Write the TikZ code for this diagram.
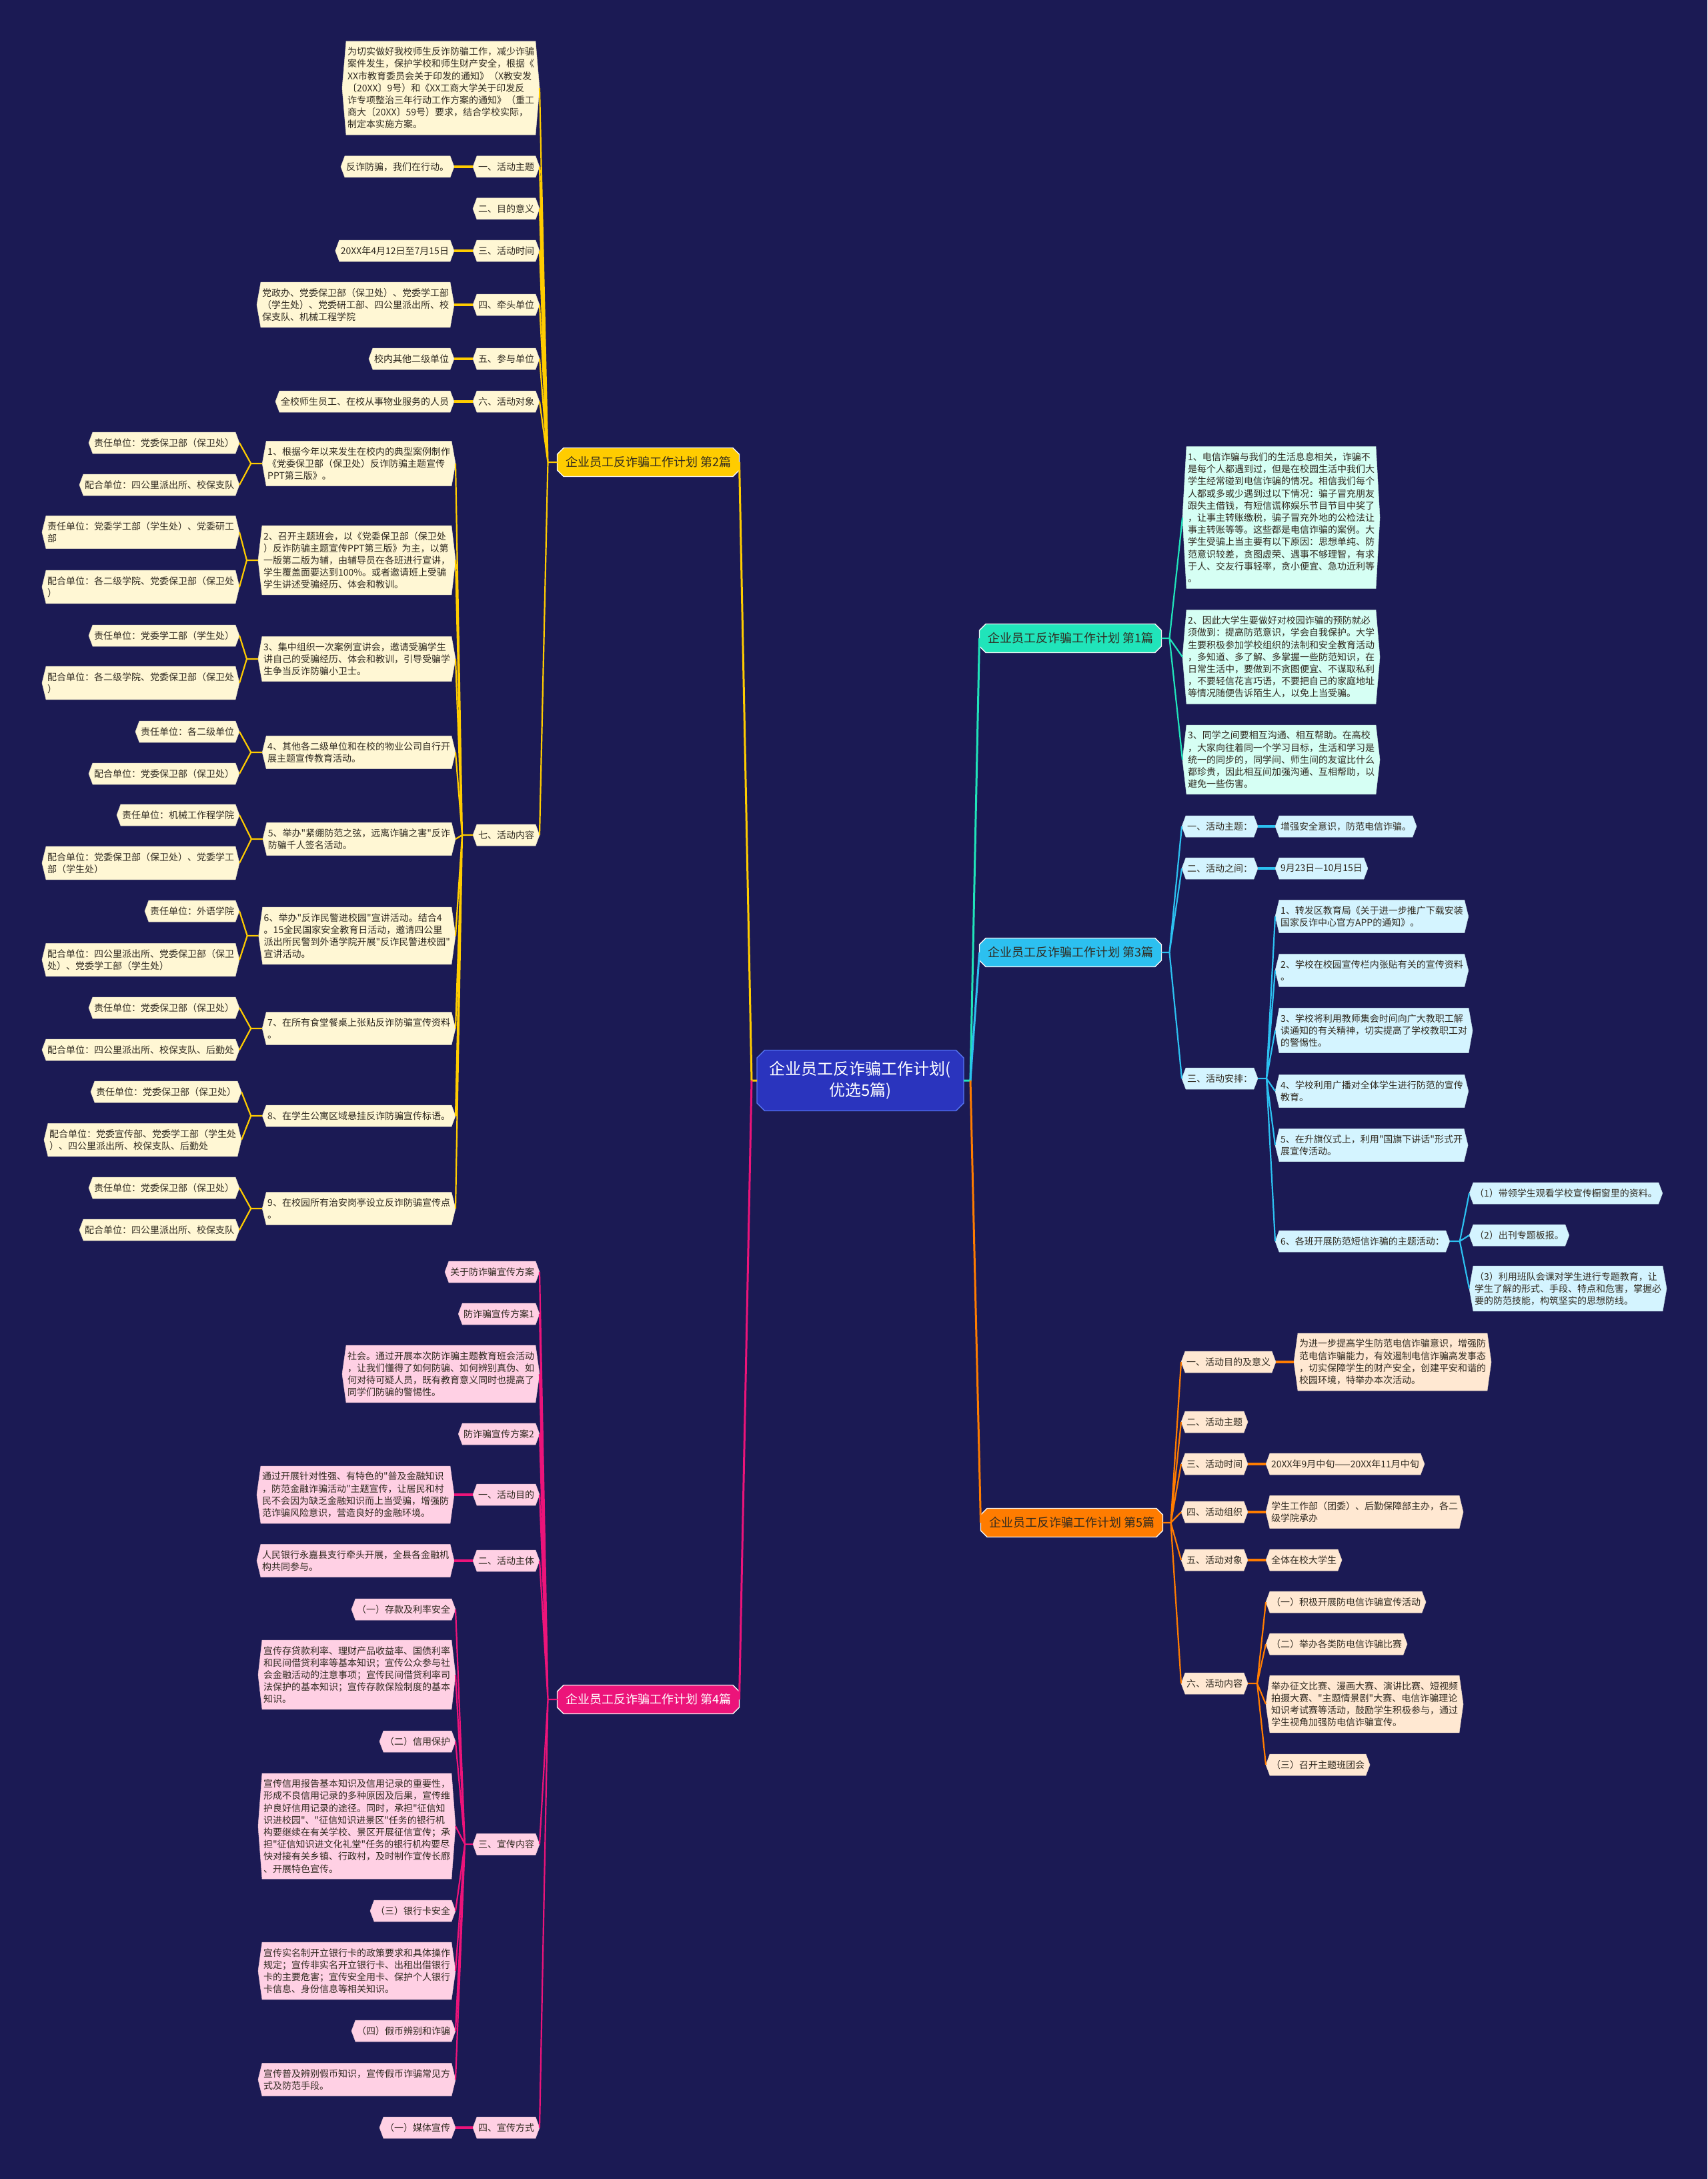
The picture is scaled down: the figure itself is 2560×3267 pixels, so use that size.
\documentclass[tikz,border=0pt]{standalone}
\usepackage{fontspec}
\setmainfont{Noto Sans CJK SC}[Ligatures=TeXOff]
\usetikzlibrary{shapes.misc}
\definecolor{night}{RGB}{27,26,84}
\definecolor{txt}{RGB}{48,42,32}
\definecolor{gold}{RGB}{255,204,0}
\definecolor{goldpale}{RGB}{255,247,212}
\definecolor{mint}{RGB}{32,228,186}
\definecolor{mintpale}{RGB}{214,255,244}
\definecolor{sky}{RGB}{44,192,240}
\definecolor{skypale}{RGB}{212,244,255}
\definecolor{amber}{RGB}{255,124,0}
\definecolor{amberpale}{RGB}{255,232,210}
\definecolor{rose}{RGB}{236,20,122}
\definecolor{rosepale}{RGB}{255,208,228}
\definecolor{rootblue}{RGB}{42,52,190}
\definecolor{rootedge}{RGB}{86,116,240}
\makeatletter
\pgfkeys{/pgf/hex tip/.initial=6pt}
\pgfdeclareshape{hexbox}{%
  \inheritsavedanchors[from=rectangle]%
  \inheritanchorborder[from=rectangle]%
  \inheritanchor[from=rectangle]{center}%
  \inheritanchor[from=rectangle]{north}%
  \inheritanchor[from=rectangle]{south}%
  \inheritanchor[from=rectangle]{mid}%
  \inheritanchor[from=rectangle]{base}%
  \saveddimen\hextip{\pgfmathsetlength\pgf@x{\pgfkeysvalueof{/pgf/hex tip}}}%
  \anchor{east}{\southwest\pgf@ya=\pgf@y\northeast
    \pgf@y=.5\pgf@y\advance\pgf@y by.5\pgf@ya\advance\pgf@x by\hextip}%
  \anchor{west}{\northeast\pgf@ya=\pgf@y\southwest
    \pgf@y=.5\pgf@y\advance\pgf@y by.5\pgf@ya\advance\pgf@x by-\hextip}%
  \backgroundpath{%
    \southwest\edef\hx@l{\the\pgf@x}\edef\hx@b{\the\pgf@y}%
    \northeast\edef\hx@r{\the\pgf@x}\edef\hx@t{\the\pgf@y}%
    \pgf@xa=\hx@r\advance\pgf@xa by\hextip\edef\hx@rr{\the\pgf@xa}%
    \pgf@xa=\hx@l\advance\pgf@xa by-\hextip\edef\hx@ll{\the\pgf@xa}%
    \pgf@ya=\hx@b\advance\pgf@ya by\hx@t\pgf@ya=.5\pgf@ya\edef\hx@m{\the\pgf@ya}%
    \pgfpathmoveto{\pgfqpoint{\hx@l}{\hx@b}}%
    \pgfpathlineto{\pgfqpoint{\hx@r}{\hx@b}}%
    \pgfpathlineto{\pgfqpoint{\hx@rr}{\hx@m}}%
    \pgfpathlineto{\pgfqpoint{\hx@r}{\hx@t}}%
    \pgfpathlineto{\pgfqpoint{\hx@l}{\hx@t}}%
    \pgfpathlineto{\pgfqpoint{\hx@ll}{\hx@m}}%
    \pgfpathclose}%
}
\makeatother
\begin{document}
\begin{tikzpicture}[x=1pt,y=-1pt,
  leaf/.style={hexbox,fill=#1,draw=#1!80!gray,line width=.5pt,text=txt,font=\fontsize{14}{18.2}\selectfont,align=left,inner xsep=2pt,inner ysep=9pt,minimum height=32pt,outer sep=0pt},
  branch/.style={chamfered rectangle,chamfered rectangle xsep=6pt,fill=#1,draw=white!92!gray,line width=1.4pt,text=txt,font=\fontsize{18}{22}\selectfont,minimum width=273pt,minimum height=43pt,inner sep=0pt,outer sep=0pt},
  root/.style={chamfered rectangle,chamfered rectangle xsep=8pt,fill=rootblue,draw=rootedge,line width=1.4pt,text=white,font=\fontsize{24}{32}\selectfont,align=center,minimum width=310pt,minimum height=91pt,inner sep=0pt,outer sep=0pt},
  link/.style={draw=#1,line width=2.2pt},
  stub/.style={draw=#1,line width=3.5pt}]
\path[use as bounding box,fill=night] (0,0) rectangle (2560,3267);
\node[root] (root) at (1290,1620) {企业员工反诈骗工作计划(\\优选5篇)};
\node[branch=gold] (p2) at (972,693) {企业员工反诈骗工作计划 第2篇};
\node[leaf=goldpale,anchor=east] (p2intro) at (809,132) {为切实做好我校师生反诈防骗工作，减少诈骗\\案件发生，保护学校和师生财产安全，根据《\\XX市教育委员会关于印发的通知》（X教安发\\〔20XX〕9号）和《XX工商大学关于印发反\\诈专项整治三年行动工作方案的通知》（重工\\商大〔20XX〕59号）要求，结合学校实际，\\制定本实施方案。};
\node[leaf=goldpale,anchor=east] (p2a) at (809,250) {一、活动主题};
\node[leaf=goldpale,anchor=east] (p2a1) at (681,250) {反诈防骗，我们在行动。};
\node[leaf=goldpale,anchor=east] (p2b) at (809,313) {二、目的意义};
\node[leaf=goldpale,anchor=east] (p2c) at (809,376) {三、活动时间};
\node[leaf=goldpale,anchor=east] (p2c1) at (681,376) {20XX年4月12日至7月15日};
\node[leaf=goldpale,anchor=east] (p2d) at (809,457) {四、牵头单位};
\node[leaf=goldpale,anchor=east] (p2d1) at (681,457) {党政办、党委保卫部（保卫处）、党委学工部\\（学生处）、党委研工部、四公里派出所、校\\保支队、机械工程学院};
\node[leaf=goldpale,anchor=east] (p2e) at (809,538) {五、参与单位};
\node[leaf=goldpale,anchor=east] (p2e1) at (681,538) {校内其他二级单位};
\node[leaf=goldpale,anchor=east] (p2f) at (809,602) {六、活动对象};
\node[leaf=goldpale,anchor=east] (p2f1) at (681,602) {全校师生员工、在校从事物业服务的人员};
\node[leaf=goldpale,anchor=east] (p2g) at (809,1252) {七、活动内容};
\node[leaf=goldpale,anchor=east] (p2g1) at (683,695) {1、根据今年以来发生在校内的典型案例制作\\《党委保卫部（保卫处）反诈防骗主题宣传\\PPT第三版》。};
\node[leaf=goldpale,anchor=east] (p2g2) at (683,840) {2、召开主题班会，以《党委保卫部（保卫处\\）反诈防骗主题宣传PPT第三版》为主，以第\\一版第二版为辅，由辅导员在各班进行宣讲，\\学生覆盖面要达到100\%。或者邀请班上受骗\\学生讲述受骗经历、体会和教训。};
\node[leaf=goldpale,anchor=east] (p2g3) at (683,988) {3、集中组织一次案例宣讲会，邀请受骗学生\\讲自己的受骗经历、体会和教训，引导受骗学\\生争当反诈防骗小卫士。};
\node[leaf=goldpale,anchor=east] (p2g4) at (683,1128) {4、其他各二级单位和在校的物业公司自行开\\展主题宣传教育活动。};
\node[leaf=goldpale,anchor=east] (p2g5) at (683,1258) {5、举办"紧绷防范之弦，远离诈骗之害"反诈\\防骗千人签名活动。};
\node[leaf=goldpale,anchor=east] (p2g6) at (683,1403) {6、举办"反诈民警进校园"宣讲活动。结合4\\。15全民国家安全教育日活动，邀请四公里\\派出所民警到外语学院开展"反诈民警进校园"\\宣讲活动。};
\node[leaf=goldpale,anchor=east] (p2g7) at (683,1542) {7、在所有食堂餐桌上张贴反诈防骗宣传资料\\。};
\node[leaf=goldpale,anchor=east] (p2g8) at (683,1673) {8、在学生公寓区域悬挂反诈防骗宣传标语。};
\node[leaf=goldpale,anchor=east] (p2g9) at (683,1812) {9、在校园所有治安岗亭设立反诈防骗宣传点\\。};
\node[leaf=goldpale,anchor=east] (p2g1a) at (359,664) {责任单位：党委保卫部（保卫处）};
\node[leaf=goldpale,anchor=east] (p2g1b) at (359,727) {配合单位：四公里派出所、校保支队};
\node[leaf=goldpale,anchor=east] (p2g2a) at (359,798) {责任单位：党委学工部（学生处）、党委研工\\部};
\node[leaf=goldpale,anchor=east] (p2g2b) at (359,880) {配合单位：各二级学院、党委保卫部（保卫处\\）};
\node[leaf=goldpale,anchor=east] (p2g3a) at (359,953) {责任单位：党委学工部（学生处）};
\node[leaf=goldpale,anchor=east] (p2g3b) at (359,1024) {配合单位：各二级学院、党委保卫部（保卫处\\）};
\node[leaf=goldpale,anchor=east] (p2g4a) at (359,1097) {责任单位：各二级单位};
\node[leaf=goldpale,anchor=east] (p2g4b) at (359,1160) {配合单位：党委保卫部（保卫处）};
\node[leaf=goldpale,anchor=east] (p2g5a) at (359,1222) {责任单位：机械工作程学院};
\node[leaf=goldpale,anchor=east] (p2g5b) at (359,1294) {配合单位：党委保卫部（保卫处）、党委学工\\部（学生处）};
\node[leaf=goldpale,anchor=east] (p2g6a) at (359,1366) {责任单位：外语学院};
\node[leaf=goldpale,anchor=east] (p2g6b) at (359,1439) {配合单位：四公里派出所、党委保卫部（保卫\\处）、党委学工部（学生处）};
\node[leaf=goldpale,anchor=east] (p2g7a) at (359,1511) {责任单位：党委保卫部（保卫处）};
\node[leaf=goldpale,anchor=east] (p2g7b) at (359,1574) {配合单位：四公里派出所、校保支队、后勤处};
\node[leaf=goldpale,anchor=east] (p2g8a) at (362,1637) {责任单位：党委保卫部（保卫处）};
\node[leaf=goldpale,anchor=east] (p2g8b) at (362,1709) {配合单位：党委宣传部、党委学工部（学生处\\）、四公里派出所、校保支队、后勤处};
\node[leaf=goldpale,anchor=east] (p2g9a) at (359,1781) {责任单位：党委保卫部（保卫处）};
\node[leaf=goldpale,anchor=east] (p2g9b) at (359,1844) {配合单位：四公里派出所、校保支队};
\node[branch=mint] (p1) at (1605,957) {企业员工反诈骗工作计划 第1篇};
\node[leaf=mintpale,anchor=west] (p1a) at (1773,776) {1、电信诈骗与我们的生活息息相关，诈骗不\\是每个人都遇到过，但是在校园生活中我们大\\学生经常碰到电信诈骗的情况。相信我们每个\\人都或多或少遇到过以下情况：骗子冒充朋友\\跟失主借钱，有短信谎称娱乐节目节目中奖了\\，让事主转账缴税，骗子冒充外地的公检法让\\事主转账等等。这些都是电信诈骗的案例。大\\学生受骗上当主要有以下原因：思想单纯、防\\范意识较差，贪图虚荣、遇事不够理智，有求\\于人、交友行事轻率，贪小便宜、急功近利等\\。};
\node[leaf=mintpale,anchor=west] (p1b) at (1773,985) {2、因此大学生要做好对校园诈骗的预防就必\\须做到：提高防范意识，学会自我保护。大学\\生要积极参加学校组织的法制和安全教育活动\\，多知道、多了解、多掌握一些防范知识，在\\日常生活中，要做到不贪图便宜、不谋取私利\\，不要轻信花言巧语，不要把自己的家庭地址\\等情况随便告诉陌生人，以免上当受骗。};
\node[leaf=mintpale,anchor=west] (p1c) at (1773,1139) {3、同学之间要相互沟通、相互帮助。在高校\\，大家向往着同一个学习目标，生活和学习是\\统一的同步的，同学间、师生间的友谊比什么\\都珍贵，因此相互间加强沟通、互相帮助，以\\避免一些伤害。};
\node[branch=sky] (p3) at (1605,1428) {企业员工反诈骗工作计划 第3篇};
\node[leaf=skypale,anchor=west] (p3a) at (1772,1239) {一、活动主题：};
\node[leaf=skypale,anchor=west] (p3a1) at (1912,1239) {增强安全意识，防范电信诈骗。};
\node[leaf=skypale,anchor=west] (p3b) at (1772,1302) {二、活动之间：};
\node[leaf=skypale,anchor=west] (p3b1) at (1912,1302) {9月23日—10月15日};
\node[leaf=skypale,anchor=west] (p3c) at (1772,1617) {三、活动安排：};
\node[leaf=skypale,anchor=west] (p3c1) at (1912,1374) {1、转发区教育局《关于进一步推广下载安装\\国家反诈中心官方APP的通知》。};
\node[leaf=skypale,anchor=west] (p3c2) at (1912,1455) {2、学校在校园宣传栏内张贴有关的宣传资料\\。};
\node[leaf=skypale,anchor=west] (p3c3) at (1912,1545) {3、学校将利用教师集会时间向广大教职工解\\读通知的有关精神，切实提高了学校教职工对\\的警惕性。};
\node[leaf=skypale,anchor=west] (p3c4) at (1912,1636) {4、学校利用广播对全体学生进行防范的宣传\\教育。};
\node[leaf=skypale,anchor=west] (p3c5) at (1912,1717) {5、在升旗仪式上，利用"国旗下讲话"形式开\\展宣传活动。};
\node[leaf=skypale,anchor=west] (p3c6) at (1912,1861) {6、各班开展防范短信诈骗的主题活动：};
\node[leaf=skypale,anchor=west] (p3c6a) at (2203,1789) {（1）带领学生观看学校宣传橱窗里的资料。};
\node[leaf=skypale,anchor=west] (p3c6b) at (2203,1852) {（2）出刊专题板报。};
\node[leaf=skypale,anchor=west] (p3c6c) at (2203,1932) {（3）利用班队会课对学生进行专题教育，让\\学生了解的形式、手段、特点和危害，掌握必\\要的防范技能，构筑坚实的思想防线。};
\node[branch=amber] (p5) at (1607,2283) {企业员工反诈骗工作计划 第5篇};
\node[leaf=amberpale,anchor=west] (p5a) at (1771,2042) {一、活动目的及意义};
\node[leaf=amberpale,anchor=west] (p5a1) at (1940,2042) {为进一步提高学生防范电信诈骗意识，增强防\\范电信诈骗能力，有效遏制电信诈骗高发事态\\，切实保障学生的财产安全，创建平安和谐的\\校园环境，特举办本次活动。};
\node[leaf=amberpale,anchor=west] (p5b) at (1771,2132) {二、活动主题};
\node[leaf=amberpale,anchor=west] (p5c) at (1771,2195) {三、活动时间};
\node[leaf=amberpale,anchor=west] (p5c1) at (1898,2195) {20XX年9月中旬——20XX年11月中旬};
\node[leaf=amberpale,anchor=west] (p5d) at (1771,2267) {四、活动组织};
\node[leaf=amberpale,anchor=west] (p5d1) at (1898,2267) {学生工作部（团委）、后勤保障部主办，各二\\级学院承办};
\node[leaf=amberpale,anchor=west] (p5e) at (1771,2339) {五、活动对象};
\node[leaf=amberpale,anchor=west] (p5e1) at (1898,2339) {全体在校大学生};
\node[leaf=amberpale,anchor=west] (p5f) at (1771,2524) {六、活动内容};
\node[leaf=amberpale,anchor=west] (p5f1) at (1898,2402) {（一）积极开展防电信诈骗宣传活动};
\node[leaf=amberpale,anchor=west] (p5f2) at (1898,2465) {（二）举办各类防电信诈骗比赛};
\node[leaf=amberpale,anchor=west] (p5f3) at (1898,2555) {举办征文比赛、漫画大赛、演讲比赛、短视频\\拍摄大赛、"主题情景剧"大赛、电信诈骗理论\\知识考试赛等活动，鼓励学生积极参与，通过\\学生视角加强防电信诈骗宣传。};
\node[leaf=amberpale,anchor=west] (p5f4) at (1898,2646) {（三）召开主题班团会};
\node[branch=rose,text=white] (p4) at (972,2548) {企业员工反诈骗工作计划 第4篇};
\node[leaf=rosepale,anchor=east] (p4a) at (809,1907) {关于防诈骗宣传方案};
\node[leaf=rosepale,anchor=east] (p4b) at (809,1970) {防诈骗宣传方案1};
\node[leaf=rosepale,anchor=east] (p4c) at (809,2060) {社会。通过开展本次防诈骗主题教育班会活动\\，让我们懂得了如何防骗、如何辨别真伪、如\\何对待可疑人员，既有教育意义同时也提高了\\同学们防骗的警惕性。};
\node[leaf=rosepale,anchor=east] (p4d) at (809,2150) {防诈骗宣传方案2};
\node[leaf=rosepale,anchor=east] (p4e) at (809,2241) {一、活动目的};
\node[leaf=rosepale,anchor=east] (p4e1) at (681,2241) {通过开展针对性强、有特色的"普及金融知识\\，防范金融诈骗活动"主题宣传，让居民和村\\民不会因为缺乏金融知识而上当受骗，增强防\\范诈骗风险意识，营造良好的金融环境。};
\node[leaf=rosepale,anchor=east] (p4f) at (809,2340) {二、活动主体};
\node[leaf=rosepale,anchor=east] (p4f1) at (681,2340) {人民银行永嘉县支行牵头开展，全县各金融机\\构共同参与。};
\node[leaf=rosepale,anchor=east] (p4g) at (809,2765) {三、宣传内容};
\node[leaf=rosepale,anchor=east] (p4g1) at (683,2413) {（一）存款及利率安全};
\node[leaf=rosepale,anchor=east] (p4g2) at (683,2511) {宣传存贷款利率、理财产品收益率、国债利率\\和民间借贷利率等基本知识；宣传公众参与社\\会金融活动的注意事项；宣传民间借贷利率司\\法保护的基本知识；宣传存款保险制度的基本\\知识。};
\node[leaf=rosepale,anchor=east] (p4g3) at (683,2611) {（二）信用保护};
\node[leaf=rosepale,anchor=east] (p4g4) at (683,2738) {宣传信用报告基本知识及信用记录的重要性，\\形成不良信用记录的多种原因及后果，宣传维\\护良好信用记录的途径。同时，承担"征信知\\识进校园"、"征信知识进景区"任务的银行机\\构要继续在有关学校、景区开展征信宣传；承\\担"征信知识进文化礼堂"任务的银行机构要尽\\快对接有关乡镇、行政村，及时制作宣传长廊\\、开展特色宣传。};
\node[leaf=rosepale,anchor=east] (p4g5) at (683,2865) {（三）银行卡安全};
\node[leaf=rosepale,anchor=east] (p4g6) at (683,2955) {宣传实名制开立银行卡的政策要求和具体操作\\规定；宣传非实名开立银行卡、出租出借银行\\卡的主要危害；宣传安全用卡、保护个人银行\\卡信息、身份信息等相关知识。};
\node[leaf=rosepale,anchor=east] (p4g7) at (683,3045) {（四）假币辨别和诈骗};
\node[leaf=rosepale,anchor=east] (p4g8) at (683,3118) {宣传普及辨别假币知识，宣传假币诈骗常见方\\式及防范手段。};
\node[leaf=rosepale,anchor=east] (p4h) at (809,3190) {四、宣传方式};
\node[leaf=rosepale,anchor=east] (p4h1) at (683,3190) {（一）媒体宣传};
\draw[link=gold,line width=3pt] (root.west) -- ++(-8,0) coordinate (roothubw) -- (p2.east);
\draw[link=rose,line width=3pt] (roothubw) -- (p4.east);
\draw[link=mint,line width=3pt] (root.east) -- ++(10,0) coordinate (roothube) -- (p1.west);
\draw[link=sky,line width=3pt] (roothube) -- (p3.west); \draw[link=amber,line width=3pt] (roothube) -- (p5.west);
\draw[link=gold] (p2.west) -- ++(-14,0) coordinate (p2hub) -- (p2intro.east) (p2hub) -- (p2a.east) (p2hub) -- (p2b.east) (p2hub) -- (p2c.east) (p2hub) -- (p2d.east) (p2hub) -- (p2e.east) (p2hub) -- (p2f.east) (p2hub) -- (p2g.east);
\draw[stub=gold] (p2a.west) -- (p2a1.east) (p2c.west) -- (p2c1.east) (p2d.west) -- (p2d1.east) (p2e.west) -- (p2e1.east) (p2f.west) -- (p2f1.east);
\draw[link=gold] (p2g.west) -- ++(-16,0) coordinate (p2ghub) -- (p2g1.east) (p2ghub) -- (p2g2.east) (p2ghub) -- (p2g3.east) (p2ghub) -- (p2g4.east) (p2ghub) -- (p2g5.east) (p2ghub) -- (p2g6.east) (p2ghub) -- (p2g7.east) (p2ghub) -- (p2g8.east) (p2ghub) -- (p2g9.east);
\draw[link=gold] (p2g1.west) -- ++(-17,0) coordinate (p2g1hub) -- (p2g1a.east) (p2g1hub) -- (p2g1b.east);
\draw[link=gold] (p2g2.west) -- ++(-17,0) coordinate (p2g2hub) -- (p2g2a.east) (p2g2hub) -- (p2g2b.east);
\draw[link=gold] (p2g3.west) -- ++(-17,0) coordinate (p2g3hub) -- (p2g3a.east) (p2g3hub) -- (p2g3b.east);
\draw[link=gold] (p2g4.west) -- ++(-17,0) coordinate (p2g4hub) -- (p2g4a.east) (p2g4hub) -- (p2g4b.east);
\draw[link=gold] (p2g5.west) -- ++(-17,0) coordinate (p2g5hub) -- (p2g5a.east) (p2g5hub) -- (p2g5b.east);
\draw[link=gold] (p2g6.west) -- ++(-17,0) coordinate (p2g6hub) -- (p2g6a.east) (p2g6hub) -- (p2g6b.east);
\draw[link=gold] (p2g7.west) -- ++(-17,0) coordinate (p2g7hub) -- (p2g7a.east) (p2g7hub) -- (p2g7b.east);
\draw[link=gold] (p2g8.west) -- ++(-17,0) coordinate (p2g8hub) -- (p2g8a.east) (p2g8hub) -- (p2g8b.east);
\draw[link=gold] (p2g9.west) -- ++(-17,0) coordinate (p2g9hub) -- (p2g9a.east) (p2g9hub) -- (p2g9b.east);
\draw[link=mint] (p1.east) -- ++(12,0) coordinate (p1hub) -- (p1a.west) (p1hub) -- (p1b.west) (p1hub) -- (p1c.west);
\draw[link=sky] (p3.east) -- ++(12,0) coordinate (p3hub) -- (p3a.west) (p3hub) -- (p3b.west) (p3hub) -- (p3c.west);
\draw[stub=sky] (p3a.east) -- (p3a1.west) (p3b.east) -- (p3b1.west);
\draw[link=sky] (p3c.east) -- ++(13,0) coordinate (p3chub) -- (p3c1.west) (p3chub) -- (p3c2.west) (p3chub) -- (p3c3.west) (p3chub) -- (p3c4.west) (p3chub) -- (p3c5.west) (p3chub) -- (p3c6.west);
\draw[link=sky] (p3c6.east) -- ++(15,0) coordinate (p3c6hub) -- (p3c6a.west) (p3c6hub) -- (p3c6b.west) (p3c6hub) -- (p3c6c.west);
\draw[link=amber] (p5.east) -- ++(12,0) coordinate (p5hub) -- (p5a.west) (p5hub) -- (p5b.west) (p5hub) -- (p5c.west) (p5hub) -- (p5d.west) (p5hub) -- (p5e.west) (p5hub) -- (p5f.west);
\draw[stub=amber] (p5a.east) -- (p5a1.west) (p5c.east) -- (p5c1.west) (p5d.east) -- (p5d1.west) (p5e.east) -- (p5e1.west);
\draw[link=amber] (p5f.east) -- ++(14,0) coordinate (p5fhub) -- (p5f1.west) (p5fhub) -- (p5f2.west) (p5fhub) -- (p5f3.west) (p5fhub) -- (p5f4.west);
\draw[link=rose] (p4.west) -- ++(-14,0) coordinate (p4hub) -- (p4a.east) (p4hub) -- (p4b.east) (p4hub) -- (p4c.east) (p4hub) -- (p4d.east) (p4hub) -- (p4e.east) (p4hub) -- (p4f.east) (p4hub) -- (p4g.east) (p4hub) -- (p4h.east);
\draw[stub=rose] (p4e.west) -- (p4e1.east) (p4f.west) -- (p4f1.east) (p4h.west) -- (p4h1.east);
\draw[link=rose] (p4g.west) -- ++(-12,0) coordinate (p4ghub) -- (p4g1.east) (p4ghub) -- (p4g2.east) (p4ghub) -- (p4g3.east) (p4ghub) -- (p4g4.east) (p4ghub) -- (p4g5.east) (p4ghub) -- (p4g6.east) (p4ghub) -- (p4g7.east) (p4ghub) -- (p4g8.east);
\end{tikzpicture}
\end{document}
